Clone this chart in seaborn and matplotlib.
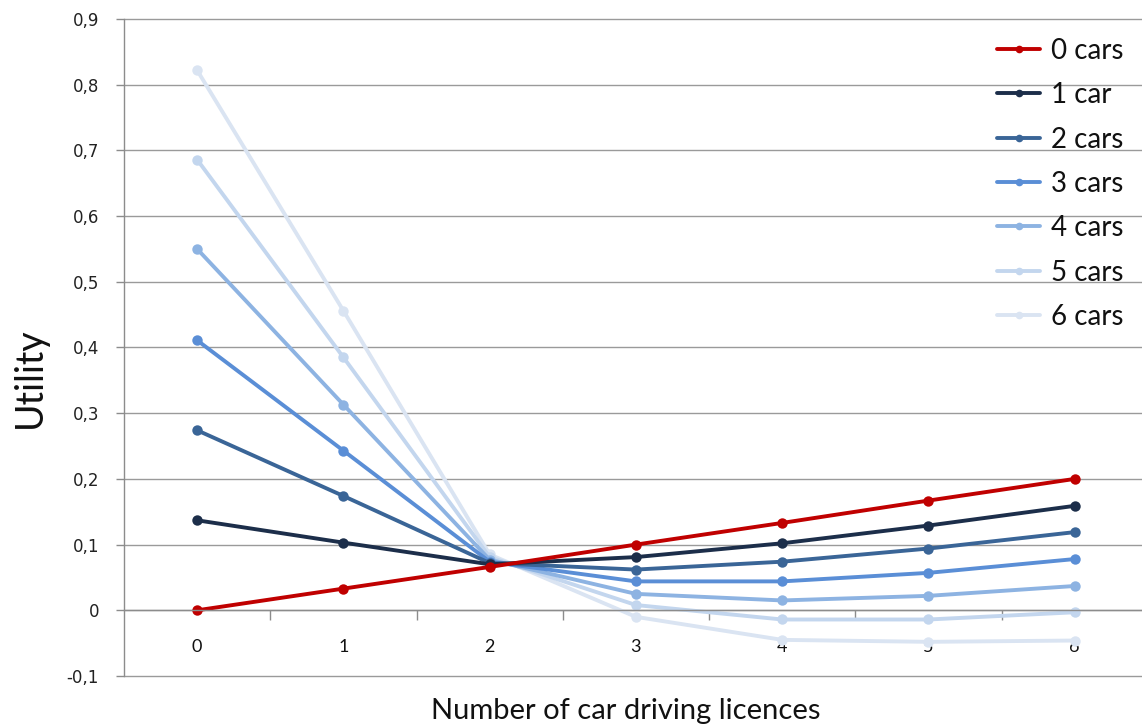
import matplotlib
matplotlib.use("Agg")
import matplotlib.pyplot as plt
import seaborn as sns
import pandas as pd
import numpy as np
from matplotlib.ticker import FixedLocator, FuncFormatter
from matplotlib.lines import Line2D

licences = [0, 1, 2, 3, 4, 5, 6]
series_names = ["0 cars", "1 car", "2 cars", "3 cars", "4 cars", "5 cars", "6 cars"]
cars0 = [0.000, 0.033, 0.066, 0.100, 0.133, 0.167, 0.200]
cars1 = [0.137, 0.103, 0.070, 0.081, 0.102, 0.129, 0.159]
cars2 = [0.274, 0.174, 0.072, 0.062, 0.074, 0.094, 0.119]
cars3 = [0.411, 0.243, 0.074, 0.044, 0.044, 0.057, 0.078]
cars4 = [0.550, 0.313, 0.077, 0.025, 0.015, 0.022, 0.037]
cars5 = [0.686, 0.385, 0.081, 0.008, -0.014, -0.014, -0.003]
cars6 = [0.822, 0.456, 0.085, -0.010, -0.045, -0.048, -0.046]
all_series = [cars0, cars1, cars2, cars3, cars4, cars5, cars6]
colors = ["#C00000", "#1C2E4A", "#3A6597", "#5A8ED6", "#8DB3E2", "#C3D6EE", "#DAE4F2"]
yticks = [-0.1, 0, 0.1, 0.2, 0.3, 0.4, 0.5, 0.6, 0.7, 0.8, 0.9]

rows = []
for name, vals in zip(series_names, all_series):
    for x, v in zip(licences, vals):
        rows.append({"licences": x, "utility": v, "series": name})
df = pd.DataFrame(rows)

sns.set_theme(style="white")
plt.rcParams["font.family"] = ["DejaVu Sans"]

fig = plt.figure(figsize=(11.42, 7.27), dpi=100)
ax = fig.add_axes([124 / 1142, 1 - 676 / 727, 1 - 124 / 1142, (676 - 19) / 727])

palette = dict(zip(series_names, colors))
sns.lineplot(data=df, x="licences", y="utility", hue="series", hue_order=series_names[::-1],
             palette=palette, marker="o", markersize=7.5, markeredgewidth=0,
             linewidth=2.8, ax=ax, legend=False, sort=False)

ax.set_xlim(-0.5, 6.46)
ax.set_ylim(-0.1, 0.9)

ax.yaxis.set_major_locator(FixedLocator(yticks))
ax.yaxis.grid(True, color="#9A9A9A", linewidth=1.0, clip_on=False)
ax.xaxis.grid(False)
ax.set_axisbelow(True)
ax.yaxis.set_major_formatter(FuncFormatter(
    lambda v, p: "0" if abs(v) < 1e-9 else (f"{v:.1f}".replace(".", ","))))
ax.tick_params(axis="y", which="major", length=6, width=1, color="#8C8C8C",
               labelsize=12, labelcolor="#222222", pad=12, left=True)

for s in ["top", "right"]:
    ax.spines[s].set_visible(False)
ax.spines["left"].set_color("#8C8C8C")
ax.spines["left"].set_linewidth(1.0)
ax.spines["bottom"].set_position(("data", 0))
ax.spines["bottom"].set_color("#8C8C8C")
ax.spines["bottom"].set_linewidth(1.0)

ax.set_xticks(licences)
ax.set_xticks([0.5, 1.5, 2.5, 3.5, 4.5, 5.5], minor=True)
ax.tick_params(axis="x", which="major", length=0, pad=21, labelsize=13,
               labelcolor="#111111")
ax.tick_params(axis="x", which="minor", length=7, width=1, color="#8C8C8C",
               direction="out", bottom=True)
for lab in ax.get_xticklabels():
    lab.set_fontfamily("Lato")

ax.set_xlabel("")
ax.set_ylabel("")
fig.text(626 / 1142, 1 - 711 / 727, "Number of car driving licences", ha="center",
         va="center", fontsize=21, family="Lato", color="#111111")
fig.text(30 / 1142, 1 - 378 / 727, "Utility", ha="center", va="center",
         rotation=90, fontsize=27, family="Lato", color="#111111")

handles = [Line2D([0], [0], color=c, linewidth=2.8, marker="o", markersize=5.5,
                  markeredgewidth=0) for c in colors]
leg = ax.legend(handles, series_names, loc="upper right", bbox_to_anchor=(1.002, 1.003),
                frameon=False, prop={"family": "Lato", "size": 20},
                handlelength=1.55, handletextpad=0.38, labelspacing=0.66,
                borderaxespad=0.35)
for t in leg.get_texts():
    t.set_color("#111111")

fig.savefig("out.png", dpi=100, facecolor="white")
